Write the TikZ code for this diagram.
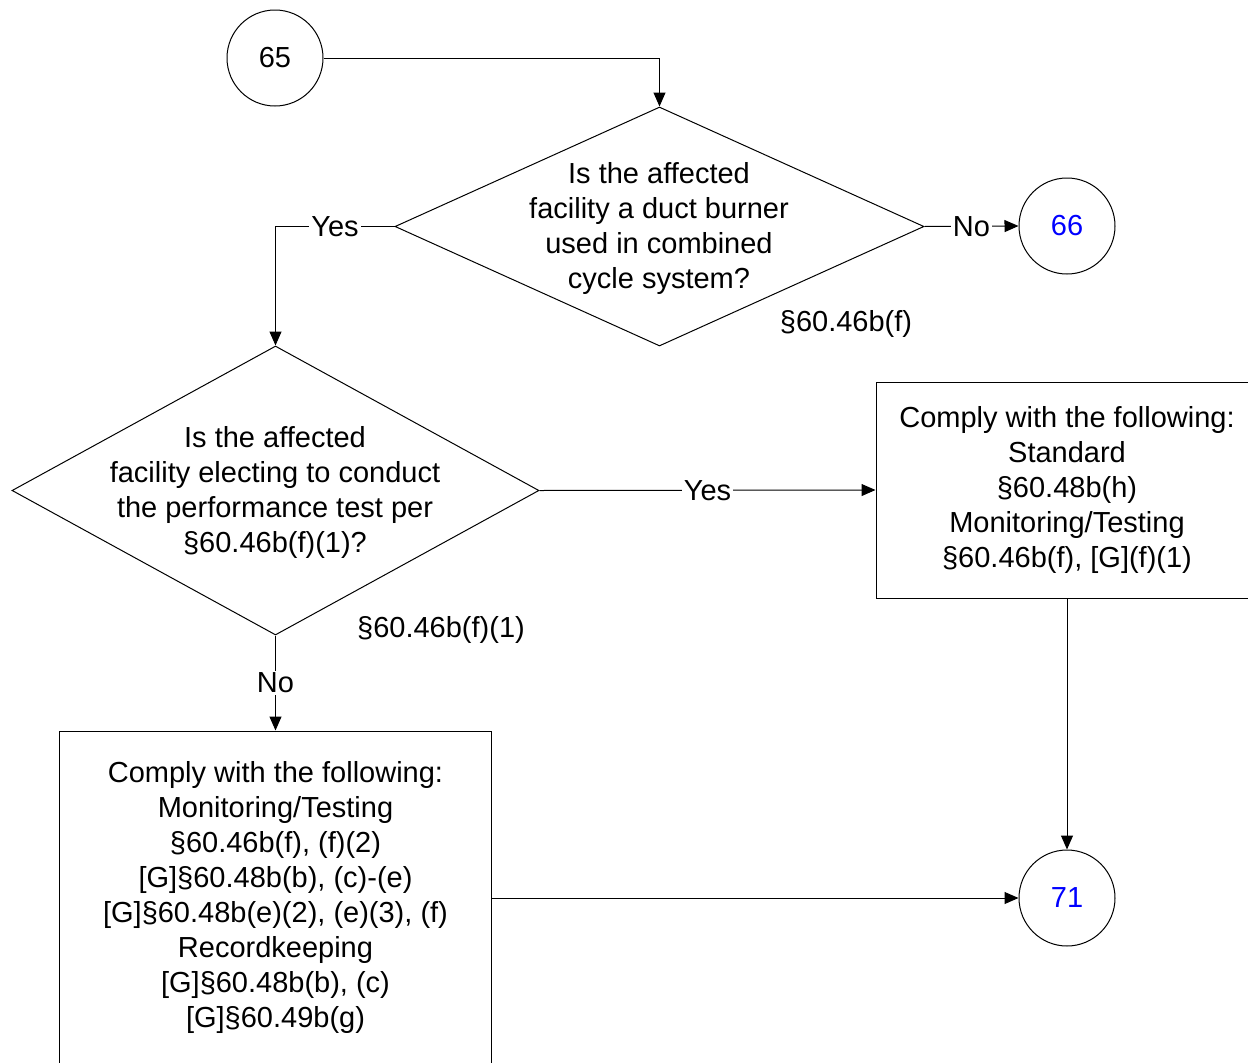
\documentclass[tikz,border=0pt]{standalone}
\usepackage{fontspec}
\setmainfont{Liberation Sans}
\usetikzlibrary{shapes.geometric,arrows.meta}
\definecolor{linkblue}{RGB}{0,0,255}
\begin{document}
\begin{tikzpicture}[x=1pt,y=-1pt,
  every node/.style={font=\fontsize{29}{35}\selectfont},
  conn/.style={circle,draw,line width=1pt,minimum size=96pt,inner sep=0pt},
  dia/.style={diamond,draw,line width=1pt,inner sep=0pt},
  boxnode/.style={rectangle,draw,line width=1pt,inner sep=0pt,align=center},
  txt/.style={align=center,inner sep=0pt},
  lab/.style={fill=white,inner sep=2pt},
  arr/.style={line width=1pt,-{Triangle[length=14pt,width=12pt]}},
  ln/.style={line width=1pt}]
\useasboundingbox (0,0) rectangle (1248,1063);
\clip (0,0) rectangle (1248,1063);
% nodes
\node[conn] (c65) at (275,58) {65};
\node[dia,minimum width=529pt,minimum height=239pt] (d1) at (659.5,226.5) {};
\node[txt] (t1) at (659,228) {Is the affected\\facility a duct burner\\used in combined\\cycle system?};
\node[txt] (r1) at (846,324) {§60.46b(f)};
\node[conn,text=linkblue] (c66) at (1067,226) {66};
\node[dia,minimum width=527pt,minimum height=289pt] (d2) at (275.5,490.5) {};
\node[txt] (t2) at (275,492.5) {Is the affected\\facility electing to conduct\\the performance test per\\§60.46b(f)(1)?};
\node[txt] (r2) at (441,630) {§60.46b(f)(1)};
\node[boxnode,minimum width=382pt,minimum height=216pt] (b1) at (1067,490) {Comply with the following:\\Standard\\§60.48b(h)\\Monitoring/Testing\\§60.46b(f), [G](f)(1)};
\node[boxnode,minimum width=432pt,minimum height=332pt] (b2) at (275.5,897) {Comply with the following:\\Monitoring/Testing\\§60.46b(f), (f)(2)\\{[G]}§60.48b(b), (c)-(e)\\{[G]}§60.48b(e)(2), (e)(3), (f)\\Recordkeeping\\{[G]}§60.48b(b), (c)\\{[G]}§60.49b(g)};
\node[conn,text=linkblue] (c71) at (1067,898) {71};
% connectors
\draw[arr] (c65.east) -| (d1.north);
\draw[arr] (d1.east) -- node[lab]{No} (c66.west);
\draw[arr] (d1.west) -| node[lab,pos=0.25]{Yes} (d2.north);
\draw[arr] (d2.east) -- node[lab]{Yes} (b1.west);
\draw[arr] (d2.south) -- node[lab]{No} (b2.north);
\draw[arr] (b1.south) -- (c71.north);
\draw[arr] (b2.east|-c71.west) -- (c71.west);
\end{tikzpicture}
\end{document}
